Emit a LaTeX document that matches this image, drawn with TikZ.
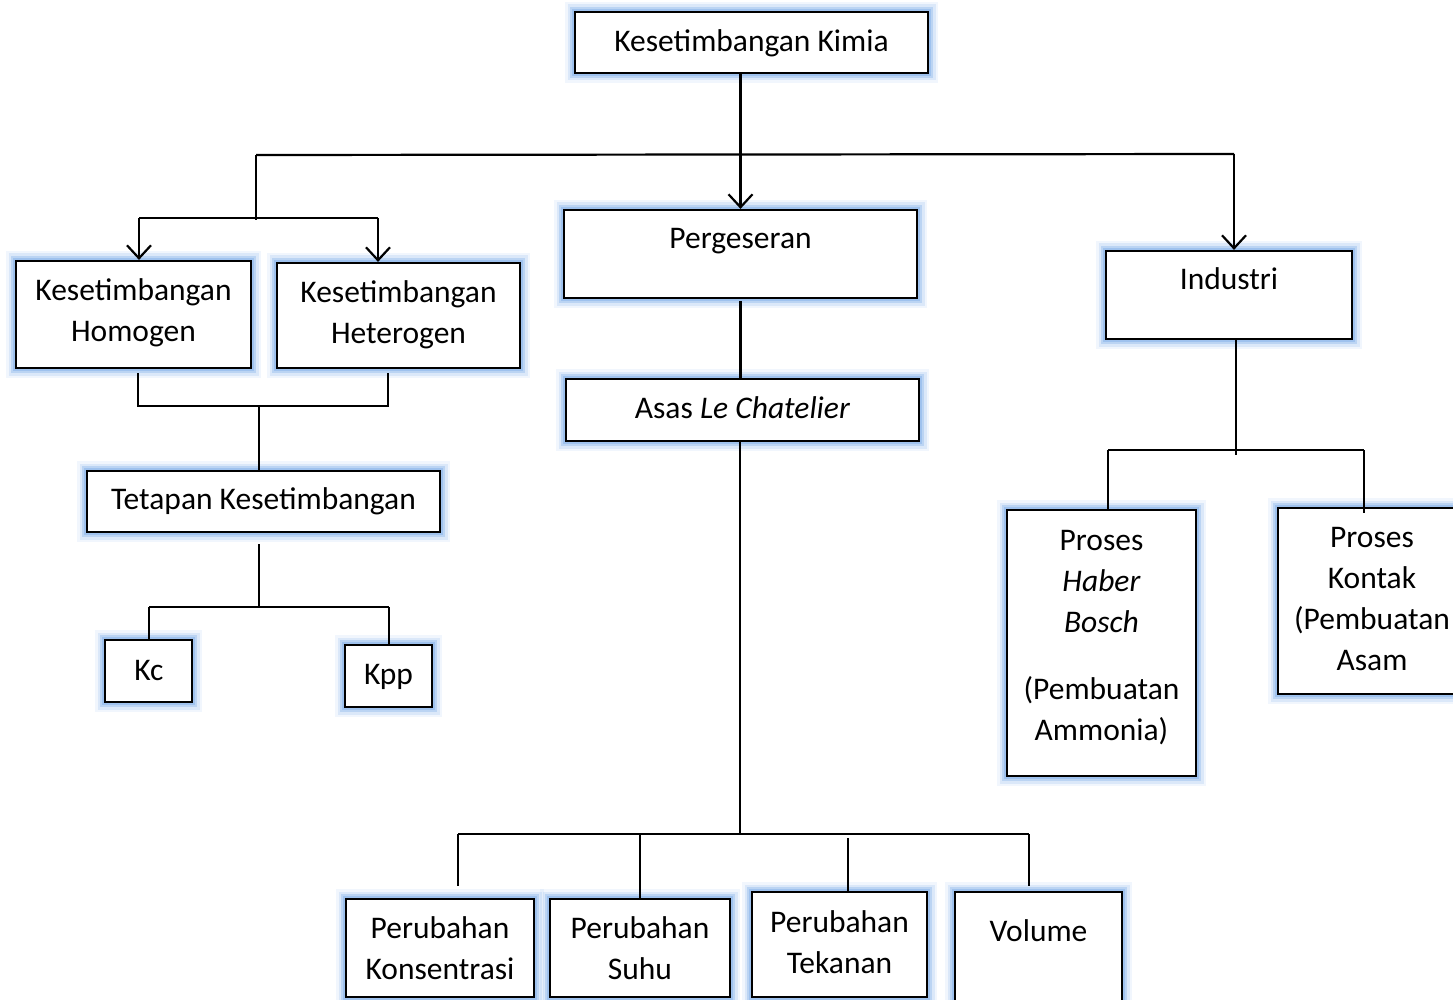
\documentclass[tikz,border=0pt]{standalone}
\usepackage{fontspec}
\setmainfont{Carlito}
\usetikzlibrary{arrows.meta,calc}
\definecolor{glowc}{RGB}{140,182,235}
\tikzset{
  box/.style={draw=black, line width=2.2pt, fill=white, inner sep=0pt, rectangle,
    preaction={draw=glowc, line width=20pt, opacity=0.12},
    preaction={draw=glowc, line width=15pt, opacity=0.22},
    preaction={draw=glowc, line width=10pt, opacity=0.4},
    preaction={draw=glowc, line width=6pt, opacity=0.6}},
  txt/.style={font=\fontsize{31.5}{41}\selectfont, inner sep=0pt, anchor=base, align=center},
  conn/.style={line width=2.2pt, draw=black},
  arr/.style={conn, -{Straight Barb[length=13pt,width=24pt,line width=2.2pt]}}
}
\begin{document}
\begin{tikzpicture}[x=1pt,y=-1pt]
\useasboundingbox (0,0) rectangle (1453,1000);
\clip (0,0) rectangle (1453,1000);
% boxes
\node[box, minimum width=353, minimum height=61] (kimia) at (751.5,42.5) {};
\node[box, minimum width=353, minimum height=88] (perg) at (740.5,254) {};
\node[box, minimum width=246, minimum height=88] (ind) at (1229,295) {};
\node[box, minimum width=235, minimum height=107] (homo) at (133.5,314.5) {};
\node[box, minimum width=243, minimum height=105] (hetero) at (398.5,315.5) {};
\node[box, minimum width=353, minimum height=62] (asas) at (742.5,410) {};
\node[box, minimum width=353, minimum height=61] (tetap) at (263.5,501.5) {};
\node[box, minimum width=87, minimum height=62] (kc) at (148.5,671) {};
\node[box, minimum width=87, minimum height=62] (kpp) at (388.5,676) {};
\node[box, minimum width=189, minimum height=266] (haber) at (1101.5,643) {};
\node[box, minimum width=188, minimum height=186] (kontak) at (1372,601) {};
\node[box, minimum width=188, minimum height=98] (konsen) at (440,948) {};
\node[box, minimum width=180, minimum height=98] (suhu) at (640,948) {};
\node[box, minimum width=175, minimum height=105] (tekan) at (839.5,944.5) {};
\node[box, minimum width=167, minimum height=118] (vol) at (1038.5,951) {};
% texts (anchor = baseline of last line)
\node[txt] (kimiaT) at (751.5,52) {Kesetimbangan Kimia};
\node[txt] (pergT) at (740.5,249) {Pergeseran};
\node[txt] (indT) at (1229,290) {Industri};
\node[txt] (homoT) at (133.5,341) {Kesetimbangan\\Homogen};
\node[txt] (heteroT) at (398.5,343) {Kesetimbangan\\Heterogen};
\node[txt] (asasT) at (742.5,418) {Asas \textit{Le Chatelier}};
\node[txt] (tetapT) at (263.5,509) {Tetapan Kesetimbangan};
\node[txt] (kcT) at (149,680) {Kc};
\node[txt] (kppT) at (388.5,684) {Kpp};
\node[txt] (haberT) at (1101.5,740) {Proses\\\textit{Haber}\\\textit{Bosch}\\[26pt](Pembuatan\\Ammonia)};
\node[txt] (kontakT) at (1372,670) {Proses\\Kontak\\(Pembuatan\\Asam};
\node[txt] (konsenT) at (440,979) {Perubahan\\Konsentrasi};
\node[txt] (suhuT) at (640,979) {Perubahan\\Suhu};
\node[txt] (tekanT) at (839.5,973) {Perubahan\\Tekanan};
\node[txt] (volT) at (1038.5,941) {Volume};
% junction coordinates
\coordinate (jL) at (256,155);
\coordinate (jR) at (1234,154);
\coordinate (hL) at (139,218);
\coordinate (hR) at (378,218);
\coordinate (jLm) at (256,220);
\coordinate (bL) at (138,406);
\coordinate (bR) at (388,406);
\coordinate (bM) at (259,406);
\coordinate (tM) at (259,607);
\coordinate (tL) at (149,607);
\coordinate (tR) at (389,607);
\coordinate (aM) at (740,834);
\coordinate (aL) at (458,834);
\coordinate (aR) at (1029,834);
\coordinate (iM) at (1236,450);
\coordinate (iL) at (1108,450);
\coordinate (iR) at (1364,450);
% connectors
\draw[arr] (perg.north |- kimia.south) -- (perg.north);
\draw[conn] (jL) -- (jR);
\draw[conn] (jL) -- (jLm);
\draw[conn] (hL) -- (hR);
\draw[arr] (hL) -- (hL |- homo.north);
\draw[arr] (hR) -- (hR |- hetero.north);
\draw[arr] (jR) -- (jR |- ind.north);
\draw[conn] ([yshift=-4pt]bL |- homo.south) -- (bL) -- (bR) -- ([yshift=-4pt]bR |- hetero.south);
\draw[conn] (bM) -- (bM |- tetap.north);
\draw[conn] ([yshift=-11pt]tM |- tetap.south) -- (tM);
\draw[conn] (tL) -- (tR);
\draw[conn] (tL) -- (tL |- kc.north);
\draw[conn] (tR) -- (tR |- kpp.north);
\draw[conn] ([yshift=-2pt]perg.south) -- (perg.south |- asas.north);
\draw[conn] (aM |- asas.south) -- (aM);
\draw[conn] (aL) -- (aR);
\draw[conn] (aL) -- ([yshift=12pt]aL |- konsen.north);
\draw[conn] (aL -| suhu.north) -- (suhu.north);
\draw[conn] ([yshift=-4pt]aM -| 848,0) -- (848,892);
\draw[conn] (aR) -- ([yshift=5pt]aR |- vol.north);
\draw[conn] (iM |- ind.south) -- ([yshift=-5pt]iM);
\draw[conn] (iL) -- (iR);
\draw[conn] (iL) -- ([yshift=-2pt]iL |- haber.north);
\draw[conn] (iR) -- ([yshift=-6pt]iR |- kontak.north);
\end{tikzpicture}
\end{document}
